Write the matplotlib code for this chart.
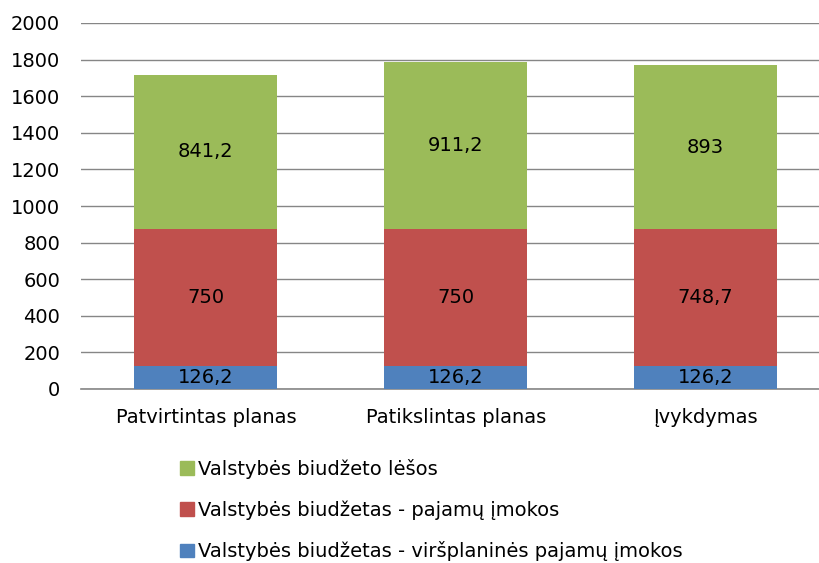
import matplotlib.pyplot as plt
import matplotlib.patches as mpatches

categories = ["Patvirtintas planas", "Patikslintas planas", "Įvykdymas"]
blue_vals = [126.2, 126.2, 126.2]
red_vals = [750, 750, 748.7]
green_vals = [841.2, 911.2, 893]
blue_labels = ["126,2", "126,2", "126,2"]
red_labels = ["750", "750", "748,7"]
green_labels = ["841,2", "911,2", "893"]
series_names = ["Valstybės biudžetas - viršplaninės pajamų įmokos",
                "Valstybės biudžetas - pajamų įmokos",
                "Valstybės biudžeto lėšos"]

plt.rcParams['font.family'] = ['DejaVu Sans']
fs = 14

fig = plt.figure(figsize=(8.2, 5.63), dpi=100)
W, H = 820, 563
ax = fig.add_axes([81 / W, (H - 389) / H, 738 / W, 366 / H])

blue = "#4F81BD"
red = "#C0504D"
green = "#9BBB59"
x = range(len(categories))
bw = 0.572

ax.bar(x, blue_vals, bw, color=blue, zorder=3)
bottom2 = blue_vals
ax.bar(x, red_vals, bw, bottom=bottom2, color=red, zorder=3)
bottom3 = [a + b for a, b in zip(blue_vals, red_vals)]
ax.bar(x, green_vals, bw, bottom=bottom3, color=green, zorder=3)

for i in x:
    ax.text(i, blue_vals[i] / 2, blue_labels[i], ha='center', va='center', fontsize=fs, zorder=4)
    ax.text(i, bottom2[i] + red_vals[i] / 2, red_labels[i], ha='center', va='center', fontsize=fs, zorder=4)
    ax.text(i, bottom3[i] + green_vals[i] / 2, green_labels[i], ha='center', va='center', fontsize=fs, zorder=4)

ax.set_ylim(0, 2000)
ax.set_yticks(range(0, 2001, 200))
ax.set_xlim(-0.5, 2.454)
ax.set_xticks(list(x))
ax.set_xticklabels(categories, fontsize=fs)
ax.tick_params(axis='y', labelsize=fs, length=0, pad=15)
ax.tick_params(axis='x', length=0, pad=14)
ax.grid(axis='y', color='#868686', linewidth=1, zorder=0)
for s in ['top', 'right', 'left']:
    ax.spines[s].set_visible(False)
ax.spines['bottom'].set_color('#868686')
ax.spines['bottom'].set_linewidth(1.2)

handles = [mpatches.Patch(color=green, label=series_names[2]),
           mpatches.Patch(color=red, label=series_names[1]),
           mpatches.Patch(color=blue, label=series_names[0])]
fig.legend(handles=handles, loc='upper left', bbox_to_anchor=(180 / W, 1 - 459 / H),
           frameon=False, fontsize=fs, handlelength=0.72, handleheight=0.72,
           handletextpad=0.2, labelspacing=1.1, borderaxespad=0, borderpad=0)

fig.savefig("out.png", dpi=100)
